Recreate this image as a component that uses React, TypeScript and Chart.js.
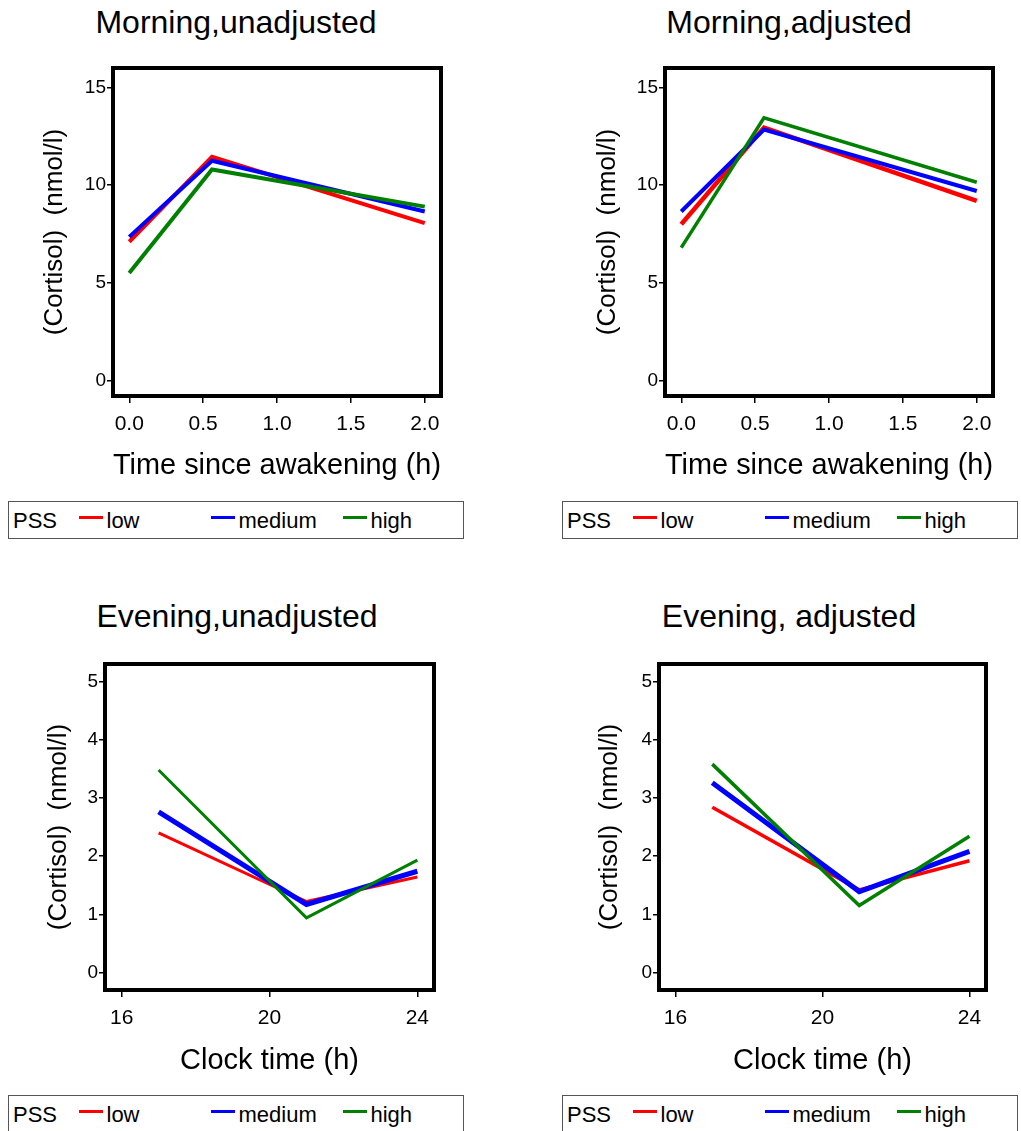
import React, { useEffect, useRef } from "react";
import { Chart, registerables } from "chart.js";

Chart.register(...registerables);

const FONT = '"Liberation Sans", Arial, Helvetica, sans-serif';

// ---------- data ----------
const morningTimes = [0, 0.56, 2.0];
const eveningTimes = [17, 21, 24];

const morningUnadjLow = [7.1, 11.45, 8.05];
const morningUnadjMedium = [7.35, 11.25, 8.65];
const morningUnadjHigh = [5.5, 10.8, 8.9];

const morningAdjLow = [8.0, 12.95, 9.2];
const morningAdjMedium = [8.65, 12.85, 9.7];
const morningAdjHigh = [6.8, 13.45, 10.15];

const eveningUnadjLow = [2.4, 1.22, 1.64];
const eveningUnadjMedium = [2.76, 1.17, 1.74];
const eveningUnadjHigh = [3.48, 0.94, 1.93];

const eveningAdjLow = [2.84, 1.42, 1.92];
const eveningAdjMedium = [3.26, 1.39, 2.08];
const eveningAdjHigh = [3.58, 1.15, 2.34];

const morningXTicks = [0, 0.5, 1, 1.5, 2];
const morningYTicks = [0, 5, 10, 15];
const eveningXTicks = [16, 20, 24];
const eveningYTicks = [0, 1, 2, 3, 4, 5];

const seriesLabels = ["low", "medium", "high"];
const seriesColors = ["#ff0000", "#0000ff", "#008000"];
const legendTitle = "PSS";

const panelTitles = [
  "Morning,unadjusted",
  "Morning,adjusted",
  "Evening,unadjusted",
  "Evening, adjusted",
];
const morningXTitle = "Time since awakening (h)";
const eveningXTitle = "Clock time (h)";
const yTitle = "(Cortisol)  (nmol/l)";

// ---------- plugin: box around plot area ----------
const boxPlugin = {
  id: "plotBox",
  afterDatasetsDraw(chart: any) {
    const { ctx, chartArea: a } = chart;
    ctx.save();
    ctx.strokeStyle = "#000";
    ctx.lineWidth = 4;
    ctx.strokeRect(a.left, a.top, a.right - a.left, a.bottom - a.top);
    ctx.restore();
  },
};

type Spec = {
  left: number;
  top: number;
  width: number;
  height: number;
  areaLeft: number;
  areaTop: number;
  areaRight: number;
  areaBottom: number;
  xMin: number;
  xMax: number;
  yMin: number;
  yMax: number;
  xTicks: number[];
  yTicks: number[];
  xDecimals: number;
  times: number[];
  series: number[][];
  widths: number[];
  xTitle: string;
  yTitleX: number;
  xTitleY: number;
};

const Y_TITLE_SIZE = 26;
const X_TITLE_SIZE = 29;

function Panel({ spec }: { spec: Spec }) {
  const ref = useRef<HTMLCanvasElement | null>(null);
  useEffect(() => {
    const s = spec;
    const yScaleWidth = s.areaLeft - s.left;
    const xScaleHeight = s.top + s.height - s.areaBottom;
    const yTitlePad = s.yTitleX - s.left - (Y_TITLE_SIZE * 1.2) / 2;
    const xTitlePad = s.top + s.height - s.xTitleY - (X_TITLE_SIZE * 1.2) / 2;
    const chart = new Chart(ref.current as HTMLCanvasElement, {
      type: "line",
      data: {
        datasets: s.series.map((vals, i) => ({
          label: seriesLabels[i],
          data: vals.map((v, j) => ({ x: s.times[j], y: v })),
          borderColor: seriesColors[i],
          backgroundColor: seriesColors[i],
          borderWidth: s.widths[i],
          pointRadius: 0,
          tension: 0,
          fill: false,
          order: 3 - i,
        })),
      },
      options: {
        animation: false,
        responsive: false,
        maintainAspectRatio: false,
        devicePixelRatio: 1,
        layout: {
          padding: {
            left: 0,
            top: s.areaTop - s.top,
            right: s.left + s.width - s.areaRight,
            bottom: 0,
          },
        },
        plugins: {
          legend: { display: false },
          tooltip: { enabled: false },
          title: { display: false },
        },
        scales: {
          x: {
            type: "linear",
            min: s.xMin,
            max: s.xMax,
            afterBuildTicks: (sc: any) => {
              sc.ticks = s.xTicks.map((v) => ({ value: v }));
            },
            afterFit: (sc: any) => {
              sc.height = xScaleHeight;
            },
            ticks: {
              autoSkip: false,
              maxRotation: 0,
              padding: 9,
              color: "#000",
              font: { family: FONT, size: 21 },
              callback: (v: any) => Number(v).toFixed(s.xDecimals),
            },
            grid: {
              display: true,
              drawOnChartArea: false,
              drawTicks: true,
              tickLength: 7,
              color: "#000",
              lineWidth: 1.5,
            },
            border: { display: false },
            title: {
              display: true,
              text: s.xTitle,
              color: "#000",
              font: { family: FONT, size: X_TITLE_SIZE },
              padding: { top: 0, bottom: xTitlePad },
            },
          },
          y: {
            type: "linear",
            min: s.yMin,
            max: s.yMax,
            afterBuildTicks: (sc: any) => {
              sc.ticks = s.yTicks.map((v) => ({ value: v }));
            },
            afterFit: (sc: any) => {
              sc.width = yScaleWidth;
            },
            ticks: {
              autoSkip: false,
              padding: 1,
              color: "#000",
              font: { family: FONT, size: 19 },
              callback: (v: any) => String(v),
            },
            grid: {
              display: true,
              drawOnChartArea: false,
              drawTicks: true,
              tickLength: 6,
              color: "#000",
              lineWidth: 1.5,
            },
            border: { display: false },
            title: {
              display: true,
              text: yTitle,
              color: "#000",
              font: { family: FONT, size: Y_TITLE_SIZE },
              padding: { top: yTitlePad, bottom: 0 },
            },
          },
        },
      },
      plugins: [boxPlugin],
    } as any);
    return () => chart.destroy();
  }, [spec]);
  return (
    <canvas
      ref={ref}
      width={spec.width}
      height={spec.height}
      style={{
        position: "absolute",
        left: spec.left,
        top: spec.top,
        width: spec.width,
        height: spec.height,
      }}
    />
  );
}

function Title({ text, cx, top }: { text: string; cx: number; top: number }) {
  return (
    <div
      style={{
        position: "absolute",
        left: cx - 250,
        width: 500,
        top,
        textAlign: "center",
        fontFamily: FONT,
        fontSize: 32,
        lineHeight: "32px",
        color: "#000",
        whiteSpace: "pre",
      }}
    >
      {text}
    </div>
  );
}

function Legend({ left, top }: { left: number; top: number }) {
  const textStyle: React.CSSProperties = {
    position: "absolute",
    top: 8,
    fontFamily: FONT,
    fontSize: 22,
    lineHeight: "22px",
    color: "#000",
    whiteSpace: "pre",
  };
  const swatchX = [71, 203, 335];
  const labelX = [99, 231, 363];
  return (
    <div
      style={{
        position: "absolute",
        left,
        top,
        width: 456,
        height: 38,
        boxSizing: "border-box",
        border: "1.5px solid #555",
      }}
    >
      <div style={{ ...textStyle, left: 4 }}>{legendTitle}</div>
      {seriesLabels.map((lab, i) => (
        <React.Fragment key={lab}>
          <div
            style={{
              position: "absolute",
              left: swatchX[i] - 1.5,
              top: 14,
              width: 24,
              height: 3,
              background: seriesColors[i],
            }}
          />
          <div style={{ ...textStyle, left: labelX[i] - 1.5 }}>{lab}</div>
        </React.Fragment>
      ))}
    </div>
  );
}

const specs: Spec[] = [
  {
    left: 0, top: 50, width: 500, height: 440,
    areaLeft: 113, areaTop: 68, areaRight: 441, areaBottom: 396,
    xMin: -0.11, xMax: 2.11, yMin: -0.8, yMax: 16,
    xTicks: morningXTicks, yTicks: morningYTicks, xDecimals: 1,
    times: morningTimes,
    series: [morningUnadjLow, morningUnadjMedium, morningUnadjHigh],
    widths: [4, 4, 4],
    xTitle: morningXTitle, yTitleX: 55, xTitleY: 466,
  },
  {
    left: 540, top: 50, width: 481, height: 440,
    areaLeft: 665, areaTop: 68, areaRight: 993, areaBottom: 396,
    xMin: -0.11, xMax: 2.11, yMin: -0.8, yMax: 16,
    xTicks: morningXTicks, yTicks: morningYTicks, xDecimals: 1,
    times: morningTimes,
    series: [morningAdjLow, morningAdjMedium, morningAdjHigh],
    widths: [4.5, 4, 3.5],
    xTitle: morningXTitle, yTitleX: 608, xTitleY: 466,
  },
  {
    left: 0, top: 640, width: 500, height: 450,
    areaLeft: 105, areaTop: 664, areaRight: 434, areaBottom: 990,
    xMin: 15.55, xMax: 24.45, yMin: -0.3, yMax: 5.3,
    xTicks: eveningXTicks, yTicks: eveningYTicks, xDecimals: 0,
    times: eveningTimes,
    series: [eveningUnadjLow, eveningUnadjMedium, eveningUnadjHigh],
    widths: [3, 5, 3],
    xTitle: eveningXTitle, yTitleX: 58.5, xTitleY: 1061,
  },
  {
    left: 540, top: 640, width: 481, height: 450,
    areaLeft: 659, areaTop: 664, areaRight: 986, areaBottom: 990,
    xMin: 15.55, xMax: 24.45, yMin: -0.3, yMax: 5.3,
    xTicks: eveningXTicks, yTicks: eveningYTicks, xDecimals: 0,
    times: eveningTimes,
    series: [eveningAdjLow, eveningAdjMedium, eveningAdjHigh],
    widths: [3.5, 5, 3.5],
    xTitle: eveningXTitle, yTitleX: 610, xTitleY: 1061,
  },
];

export default function App() {
  return (
    <div
      style={{
        position: "absolute",
        left: 0,
        top: 0,
        width: 1021,
        height: 1131,
        overflow: "hidden",
        background: "#fff",
      }}
    >
      <Title text={panelTitles[0]} cx={236} top={6} />
      <Title text={panelTitles[1]} cx={789} top={6} />
      <Title text={panelTitles[2]} cx={237} top={600} />
      <Title text={panelTitles[3]} cx={789} top={600} />
      {specs.map((s, i) => (
        <Panel key={i} spec={s} />
      ))}
      <Legend left={8} top={501} />
      <Legend left={562} top={501} />
      <Legend left={8} top={1095} />
      <Legend left={562} top={1095} />
    </div>
  );
}
